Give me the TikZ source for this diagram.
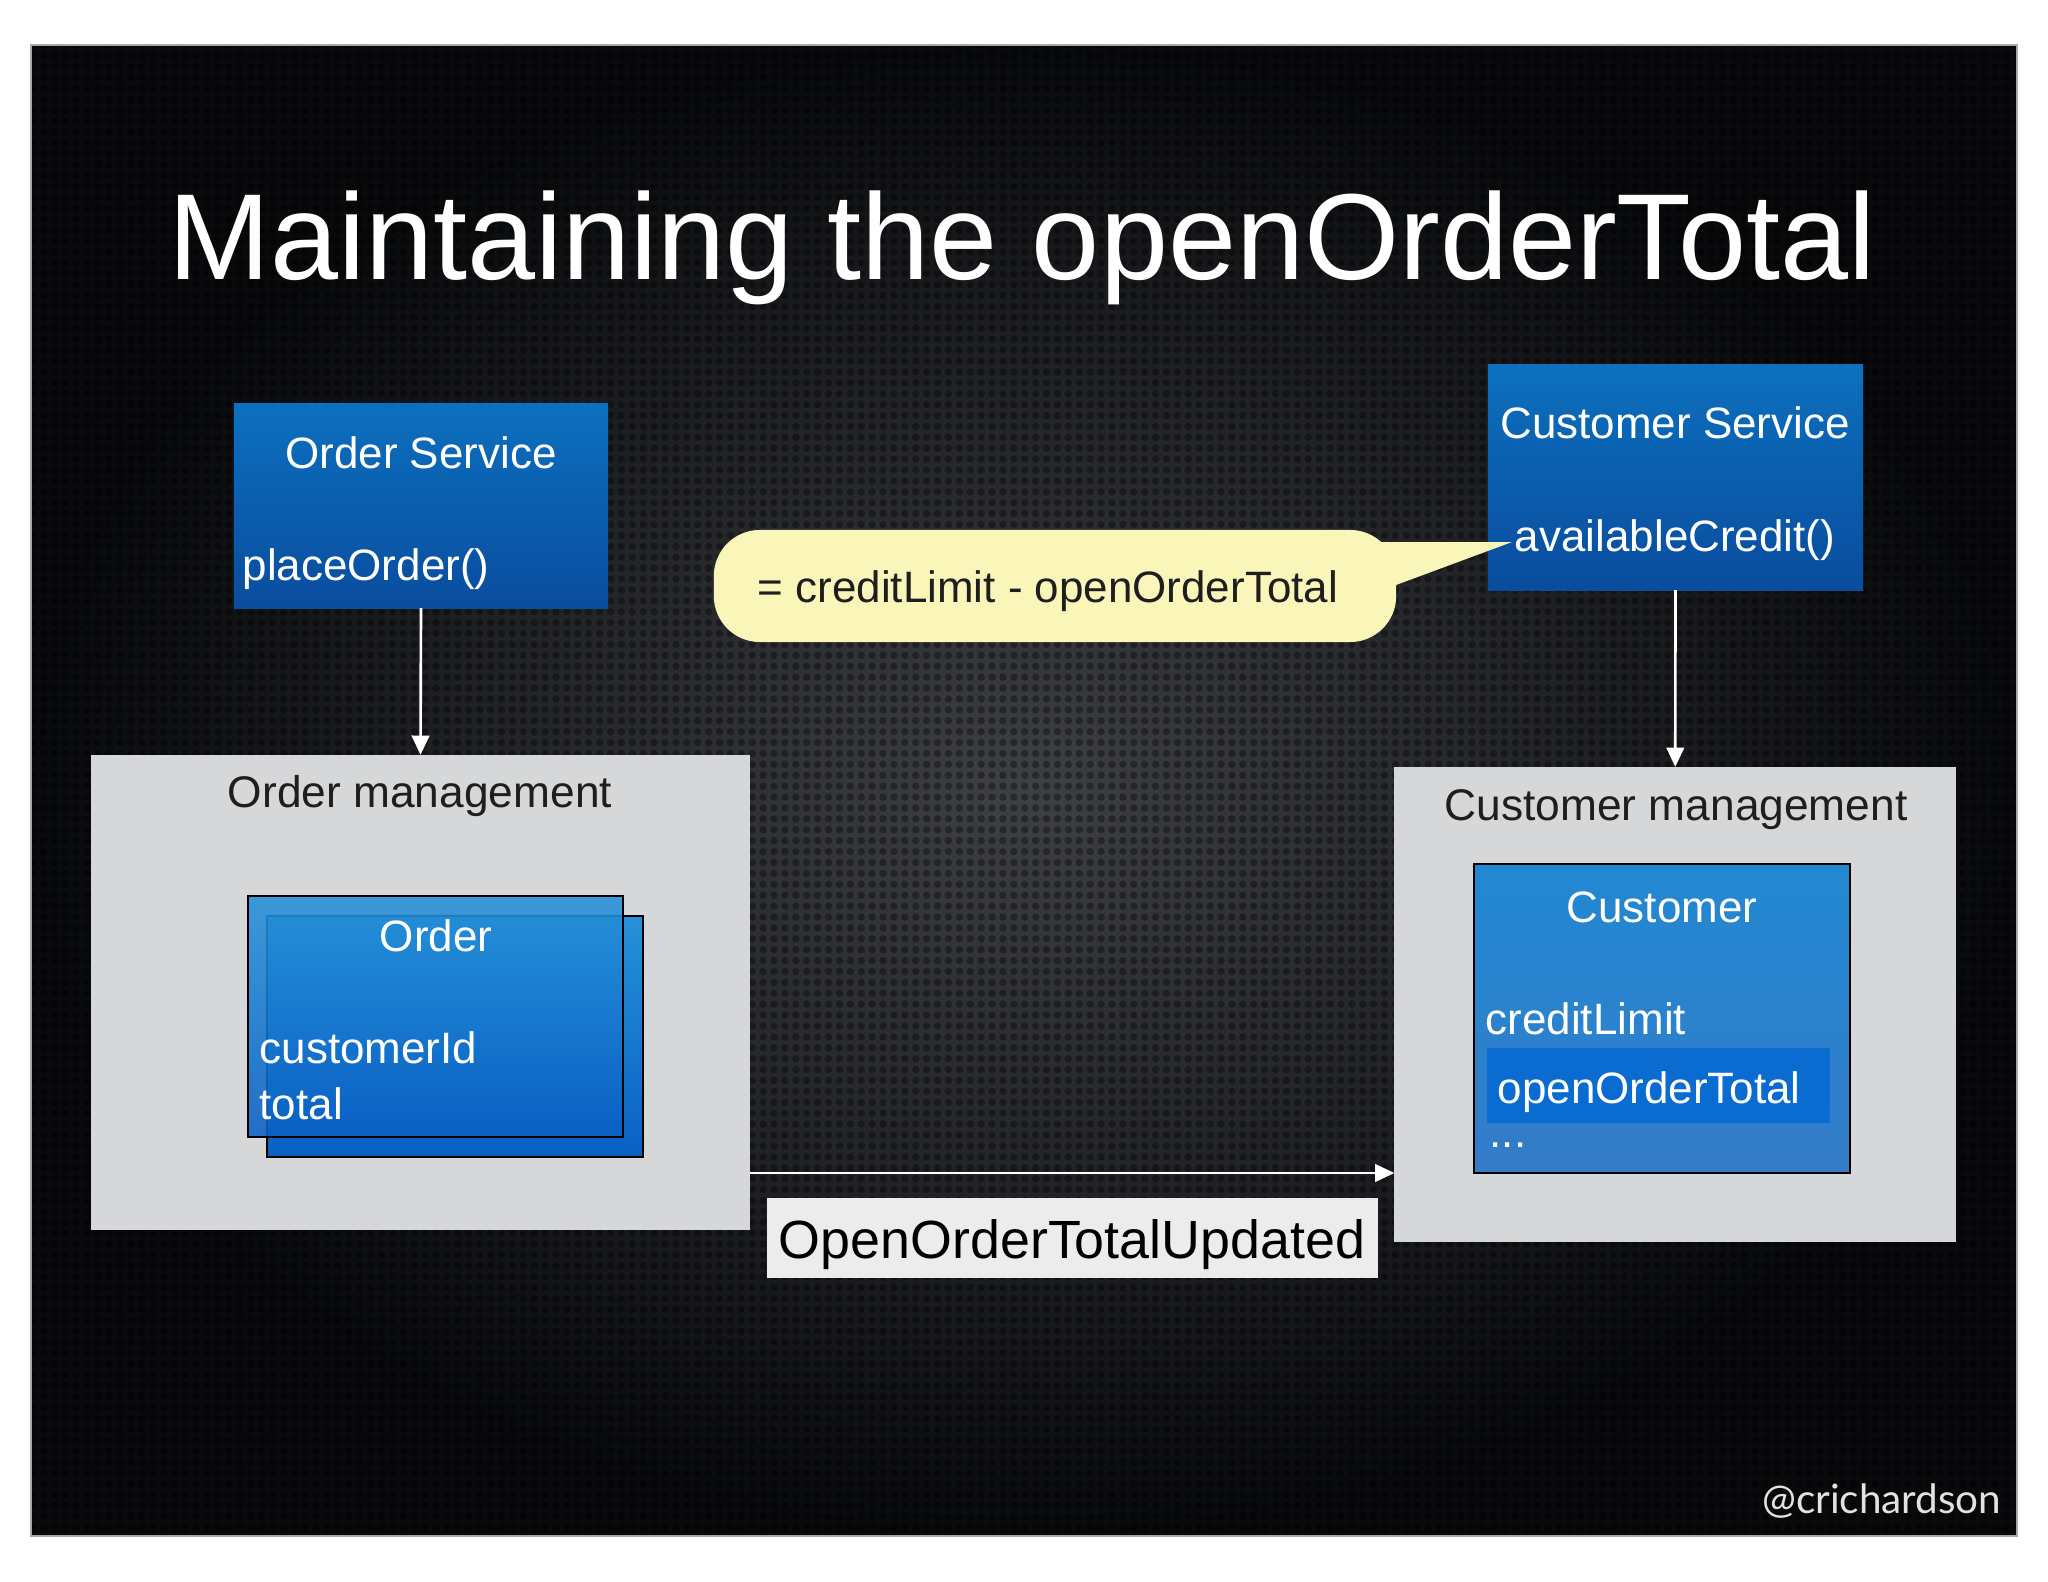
\documentclass[tikz,border=0pt]{standalone}
\usepackage{fontspec}
\setmainfont{Liberation Sans}
\newfontfamily\wmfont{Lato}
\usetikzlibrary{arrows.meta,patterns.meta}
\definecolor{bgin}{RGB}{62,64,68}
\definecolor{bgout}{RGB}{8,9,11}
\definecolor{svctop}{RGB}{12,112,190}
\definecolor{svcbot}{RGB}{10,76,158}
\definecolor{mgmtgray}{RGB}{214,215,217}
\definecolor{cardtop}{RGB}{38,145,216}
\definecolor{cardbot}{RGB}{10,96,196}
\definecolor{custtop}{RGB}{34,136,210}
\definecolor{custbot}{RGB}{52,124,200}
\definecolor{hilite}{RGB}{10,108,208}
\definecolor{calloutfill}{RGB}{250,246,186}
\definecolor{eventfill}{RGB}{236,236,236}
\definecolor{darktext}{RGB}{30,30,30}
\definecolor{wmgray}{RGB}{226,226,226}
\begin{document}
\begin{tikzpicture}[x=0.01cm,y=-0.01cm,
  box/.style={rectangle, inner sep=0pt, outer sep=0pt},
  svcbox/.style={box, top color=svctop, bottom color=svcbot},
  mgmtbox/.style={box, fill=mgmtgray},
  cardbox/.style={box, top color=cardtop, bottom color=cardbot, draw=black, line width=0.6pt},
  wtxt/.style={text=white, font=\fontsize{12.5}{15}\selectfont, inner sep=0pt, anchor=base},
  btxt/.style={text=darktext, font=\fontsize{12.6}{15}\selectfont, inner sep=0pt, anchor=base},
  arr/.style={draw=white, line width=0.75pt, -{Triangle[width=5pt,length=5.5pt]}}
]
\useasboundingbox (0,0) rectangle (2048,1582);
\fill[white] (0,0) rectangle (2048,1582);
% slide background
\shade[inner color=bgin, outer color=bgout] (31,45) rectangle (2017,1536);
\fill[pattern={Dots[radius=1.05pt,distance=3.1pt]}, pattern color=black, fill opacity=0.35] (31,45) rectangle (2017,1536);
\draw[gray!70, line width=0.5pt] (31,45) rectangle (2017,1536);

% title
\node[text=white, font=\fontsize{34.8}{40}\selectfont, inner sep=0pt, anchor=base] (title) at (1022,280) {Maintaining the openOrderTotal};

% services
\node[svcbox, minimum width=3.74cm, minimum height=2.04cm] (osvc) at (421,506) {};
\node[wtxt] (osvct) at (421,468) {Order Service};
\node[wtxt, anchor=base west] (osvcm) at (242,580) {placeOrder()};

\node[svcbox, minimum width=3.75cm, minimum height=2.25cm] (csvc) at (1675.5,477.5) {};
\node[wtxt] (csvct) at (1675,438) {Customer Service};
\node[wtxt] (csvcm) at (1675,551) {availableCredit()};

% callout
\fill[calloutfill] (1360,542) -- (1512,542) -- (1388,588) -- cycle;
\node[box, fill=calloutfill, rounded corners=0.46cm, minimum width=6.82cm, minimum height=1.12cm] (callout) at (1055,586) {};
\node[btxt, anchor=base west, font=\fontsize{12.5}{15}\selectfont] (calloutt) at (757,602) {= creditLimit - openOrderTotal};

% management boxes
\node[mgmtbox, minimum width=6.59cm, minimum height=4.75cm] (omgmt) at (420.5,992.5) {};
\node[btxt] (omgmtt) at (420,807) {Order management};

\node[mgmtbox, minimum width=5.615cm, minimum height=4.75cm] (cmgmt) at (1675.25,1004.5) {};
\node[btxt] (cmgmtt) at (1676,820) {Customer management};

% order cards
\node[cardbox, minimum width=3.75cm, minimum height=2.41cm] (ordback) at (455,1036.5) {};
\node[cardbox, fill opacity=0.88, minimum width=3.75cm, minimum height=2.41cm] (ordfront) at (435.5,1016.5) {};
\node[wtxt] (ordt) at (436,951) {Order};
\node[wtxt, anchor=base west] (ordf1) at (259,1063) {customerId};
\node[wtxt, anchor=base west] (ordf2) at (259,1119) {total};

% customer card
\node[box, top color=custtop, bottom color=custbot, draw=black, line width=0.6pt, minimum width=3.76cm, minimum height=3.09cm] (cust) at (1662,1018.5) {};
\node[wtxt] (custt) at (1662,922) {Customer};
\node[wtxt, anchor=base west] (custf1) at (1485,1034) {creditLimit};
\node[box, fill=hilite, minimum width=3.43cm, minimum height=0.75cm] (hl) at (1658.5,1085.5) {};
\node[wtxt, anchor=base west] (custf2) at (1497,1103) {openOrderTotal};
\node[wtxt, anchor=base west] (custf3) at (1489,1147) {...};

% arrows
\draw[arr] (osvc.south) -- (omgmt.north);
\draw[arr] (csvc.south) -- (cmgmt.north);
\coordinate (evy) at (1000,1173);
\draw[arr] (omgmt.east |- evy) -- (cmgmt.west |- evy);

% event label
\node[box, fill=eventfill, minimum width=6.11cm, minimum height=0.80cm] (evbox) at (1072.5,1238) {};
\node[text=black, font=\fontsize{15.3}{18}\selectfont, inner sep=0pt, anchor=base] (evt) at (1072,1258) {OpenOrderTotalUpdated};

% watermark
\node[text=wmgray, font=\wmfont\fontsize{11.5}{14}\selectfont, inner sep=0pt, anchor=base east] (wm) at (2002,1513) {@crichardson};
\end{tikzpicture}
\end{document}
